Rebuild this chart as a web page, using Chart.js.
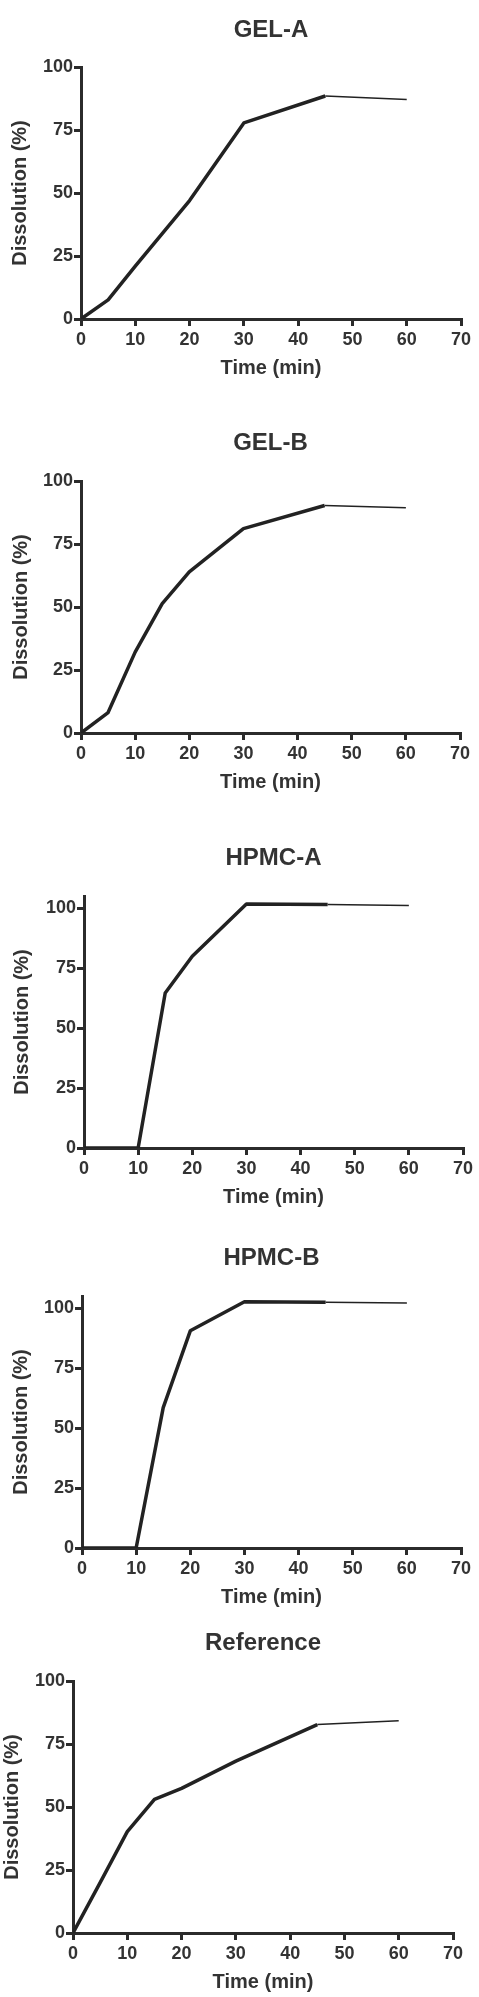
<!DOCTYPE html>
<html>
<head>
<meta charset="utf-8">
<title>Dissolution profiles</title>
<script src="https://cdn.jsdelivr.net/npm/chart.js@4.4.1/dist/chart.umd.min.js"></script>
<style>
    html, body { margin: 0; padding: 0; background: #fff; }
    body { width: 479px; height: 1997px; position: relative; overflow: hidden; }
    .panel { position: absolute; left: 0; width: 479px; }
</style>
</head>
<body>
<div class="panel" style="top:0px"><canvas id="chart-gel-a" width="479" height="400"></canvas></div>
<div class="panel" style="top:400px"><canvas id="chart-gel-b" width="479" height="400"></canvas></div>
<div class="panel" style="top:820px"><canvas id="chart-hpmc-a" width="479" height="400"></canvas></div>
<div class="panel" style="top:1220px"><canvas id="chart-hpmc-b" width="479" height="400"></canvas></div>
<div class="panel" style="top:1600px"><canvas id="chart-reference" width="479" height="397"></canvas></div>
<script>
// sampling times (min) shared by every formulation
const TIMES = [0, 5, 10, 15, 20, 30, 45, 60];

// dissolution (%)
const GEL_A = [0, 7.6, 21, 34, 47, 77.8, 88.5, 87.1];
const GEL_B = [0, 8.1, 32.1, 51.3, 63.9, 81.1, 90.3, 89.4];
const HPMC_A = [0, 0, 0, 64.6, 79.9, 101.7, 101.5, 101];
const HPMC_B = [0, 0, 0, 58.5, 90.5, 102.6, 102.4, 102.1];
const REFERENCE = [0, 20, 40.2, 53, 57.4, 68.2, 82.7, 84.2];

const X_TICKS = [0, 10, 20, 30, 40, 50, 60, 70];
const Y_TICKS = [0, 25, 50, 75, 100];

const INK = '#2b2b2b';
const TEXT = '#333333';
const FONT = "'Liberation Sans', Arial, Helvetica, sans-serif";

// where each panel's title and plot box sit inside its canvas
const panels = [
    { id: 'chart-gel-a', title: 'GEL-A', values: GEL_A, yMax: 100, h: 400,
      titleY: 30, top: 67, bottom: 319, left: 81, right: 461, yTitleX: 20 },
    { id: 'chart-gel-b', title: 'GEL-B', values: GEL_B, yMax: 100, h: 400,
      titleY: 43, top: 81, bottom: 333, left: 81, right: 460, yTitleX: 21 },
    { id: 'chart-hpmc-a', title: 'HPMC-A', values: HPMC_A, yMax: 105, h: 400,
      titleY: 38, top: 76, bottom: 328, left: 84, right: 463, yTitleX: 22 },
    { id: 'chart-hpmc-b', title: 'HPMC-B', values: HPMC_B, yMax: 105, h: 400,
      titleY: 38, top: 76, bottom: 328, left: 82, right: 461, yTitleX: 21 },
    { id: 'chart-reference', title: 'Reference', values: REFERENCE, yMax: 100, h: 397,
      titleY: 43, top: 81, bottom: 333, left: 73, right: 453, yTitleX: 12 }
];

const TITLE_SIZE = 24;
const AXIS_TITLE_SIZE = 20;
const TICK_SIZE = 18;
const X_SCALE_HEIGHT = 61;

function buildChart(p) {
    const titleHalf = TITLE_SIZE * 1.2 / 2;
    const padLeft = p.yTitleX - AXIS_TITLE_SIZE * 1.2 / 2;

    const axisCommon = {
        type: 'linear',
        border: { display: true, width: 3, color: INK },
        grid: {
            drawOnChartArea: false,
            drawTicks: true,
            tickLength: 7,
            lineWidth: 3,
            color: INK
        },
        ticks: {
            color: TEXT,
            font: { family: FONT, size: TICK_SIZE, weight: 'bold' },
            autoSkip: false,
            maxRotation: 0
        }
    };

    return new Chart(document.getElementById(p.id).getContext('2d'), {
        type: 'line',
        data: {
            datasets: [{
                data: TIMES.map((t, i) => ({ x: t, y: p.values[i] })),
                borderColor: '#222222',
                borderWidth: 3.5,
                borderJoinStyle: 'round',
                pointRadius: 0,
                tension: 0,
                fill: false,
                segment: {
                    // last interval is drawn with a thin stroke in the original
                    borderWidth: ctx => TIMES[ctx.p0DataIndex] >= 45 ? 1.5 : 3.5
                }
            }]
        },
        options: {
            responsive: false,
            animation: false,
            events: [],
            layout: {
                padding: {
                    top: p.titleY - titleHalf,
                    left: padLeft,
                    right: 479 - p.right,
                    bottom: p.h - p.bottom - X_SCALE_HEIGHT
                }
            },
            plugins: {
                legend: { display: false },
                tooltip: { enabled: false },
                title: {
                    display: true,
                    text: p.title,
                    fullSize: false,
                    color: TEXT,
                    font: { family: FONT, size: TITLE_SIZE, weight: 'bold', lineHeight: 1.2 },
                    padding: { top: 0, bottom: p.top - p.titleY - titleHalf }
                }
            },
            scales: {
                x: {
                    ...axisCommon,
                    min: 0,
                    max: 70,
                    afterBuildTicks: s => { s.ticks = X_TICKS.map(v => ({ value: v })); },
                    afterFit: s => { s.height = X_SCALE_HEIGHT; },
                    ticks: { ...axisCommon.ticks, padding: 3 },
                    title: {
                        display: true,
                        text: 'Time (min)',
                        color: TEXT,
                        font: { family: FONT, size: AXIS_TITLE_SIZE, weight: 'bold', lineHeight: 1.2 },
                        padding: 0
                    }
                },
                y: {
                    ...axisCommon,
                    min: 0,
                    max: p.yMax,
                    afterBuildTicks: s => { s.ticks = Y_TICKS.map(v => ({ value: v })); },
                    afterFit: s => { s.width = p.left - padLeft; },
                    ticks: { ...axisCommon.ticks, padding: 1 },
                    title: {
                        display: true,
                        text: 'Dissolution (%)',
                        color: TEXT,
                        font: { family: FONT, size: AXIS_TITLE_SIZE, weight: 'bold', lineHeight: 1.2 },
                        padding: 0
                    }
                }
            }
        }
    });
}

panels.forEach(buildChart);
</script>
</body>
</html>
